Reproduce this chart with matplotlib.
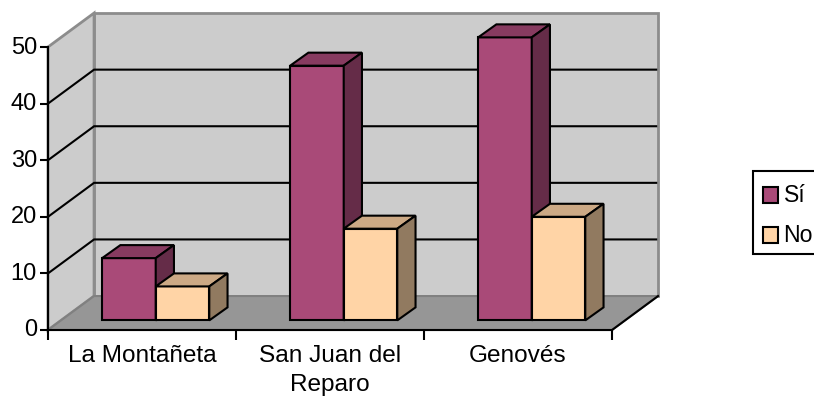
import matplotlib
matplotlib.use("Agg")
import matplotlib.pyplot as plt
from matplotlib.patches import Rectangle
from matplotlib.transforms import ScaledTranslation

plt.rcParams['font.family'] = ['Liberation Sans', 'DejaVu Sans']

categories = ["La Montañeta", "San Juan del\nReparo", "Genovés"]
series_names = ["Sí", "No"]
si_values = [11, 45, 50]
no_values = [6, 16.2, 18.3]
y_ticks = [0, 10, 20, 30, 40, 50]

# --- depth of the fake 3D box, in data units ---
wall_dx, wall_dy = 0.245, 6.0
bar_dx, bar_dy = 0.097, 2.3
base_dx, base_dy = 0.073, 1.7
bar_w = 0.285

si_colors = ("#A94A78", "#873B60", "#652C48")
no_colors = ("#FFD4A6", "#CCA985", "#917A60")

W, H = 814, 401
fig = plt.figure(figsize=(W / 100, H / 100), dpi=100)
ax = fig.add_axes([48 / W, (H - 330) / H, 564 / W, 283 / H])
ax.set_xlim(0, len(categories))
ax.set_ylim(0, y_ticks[-1])
ax.patch.set_visible(False)


def poly(xs, ys, color, edge, lw=1.5, z=1):
    ax.fill(xs, ys, facecolor=color, edgecolor=edge, linewidth=lw, joinstyle='miter',
            clip_on=False, zorder=z)


def bar3d(x0, value, colors, z):
    x1 = x0 + bar_w
    b = base_dy
    t = base_dy + value
    poly([x0, x1, x1, x0], [b, b, t, t], colors[0], 'black', z=z)
    poly([x0, x1, x1 + bar_dx, x0 + bar_dx], [t, t, t + bar_dy, t + bar_dy], colors[1], 'black', z=z)
    poly([x1, x1 + bar_dx, x1 + bar_dx, x1], [b, b + bar_dy, t + bar_dy, t], colors[2], 'black', z=z)


# --- walls and floor ---
n = len(categories)
top = y_ticks[-1]
poly([wall_dx, n + wall_dx, n + wall_dx, wall_dx],
     [wall_dy, wall_dy, top + wall_dy, top + wall_dy], '#CCCCCC', '#8C8C8C', lw=2, z=1)
poly([0, wall_dx, wall_dx, 0], [0, wall_dy, top + wall_dy, top], '#CCCCCC', '#8C8C8C', lw=2, z=1)
poly([0, n, n + wall_dx, wall_dx], [0, 0, wall_dy, wall_dy], '#969696', '#808080', z=1)

# gridlines on both walls
for v in y_ticks[1:-1]:
    ax.plot([0, wall_dx, n + wall_dx - 0.01], [v, v + wall_dy, v + wall_dy], color='black',
            lw=1.5, clip_on=False, zorder=2, solid_joinstyle='miter')
# front edge of the floor on the right side
ax.plot([n, n + wall_dx], [0, wall_dy], color='black', lw=1.5, clip_on=False, zorder=2)

# --- bars ---
for i in range(n):
    gap = (1 - 2 * bar_w) / 2
    x0 = i + gap + base_dx
    bar3d(x0, si_values[i], si_colors, 3 + i)
    bar3d(x0 + bar_w, no_values[i], no_colors, 3.5 + i)

# --- axes ---
for side in ('top', 'right'):
    ax.spines[side].set_visible(False)
for side in ('left', 'bottom'):
    ax.spines[side].set_linewidth(1.5)
    ax.spines[side].set_zorder(10)
ax.set_yticks(y_ticks)
ax.set_xticks(range(n + 1))
ax.set_xticklabels([])
ax.set_xticks([i + 0.5 for i in range(n)], minor=True)
ax.set_xticklabels(categories, minor=True, fontsize=17.6, linespacing=1.42)
ax.tick_params(axis='x', which='major', length=7, width=1.5)
ax.tick_params(axis='x', which='minor', length=0, pad=11)
ax.tick_params(axis='y', length=6, width=1.5, labelsize=17, pad=2)
for lab in ax.get_yticklabels():
    lab.set_transform(lab.get_transform() + ScaledTranslation(0, 2 / 100, fig.dpi_scale_trans))


# --- legend box runs off the right edge, as in the original ---
def px_rect(x0, y0, x1, y1, color):
    fig.add_artist(Rectangle((x0 / W, 1 - y1 / H), (x1 - x0) / W, (y1 - y0) / H,
                             transform=fig.transFigure, facecolor=color,
                             edgecolor='black', linewidth=1.5))


px_rect(753, 171, 830, 254, 'white')
for k, (name, color) in enumerate(zip(series_names, (si_colors[0], no_colors[0]))):
    y_mid = 195 + 40 * k
    px_rect(763, y_mid - 8, 778, y_mid + 8, color)
    fig.text(783.5 / W, 1 - (y_mid - 1.5) / H, name, fontsize=16.6, va='center_baseline', ha='left')

fig.savefig("out.png", dpi=100)
